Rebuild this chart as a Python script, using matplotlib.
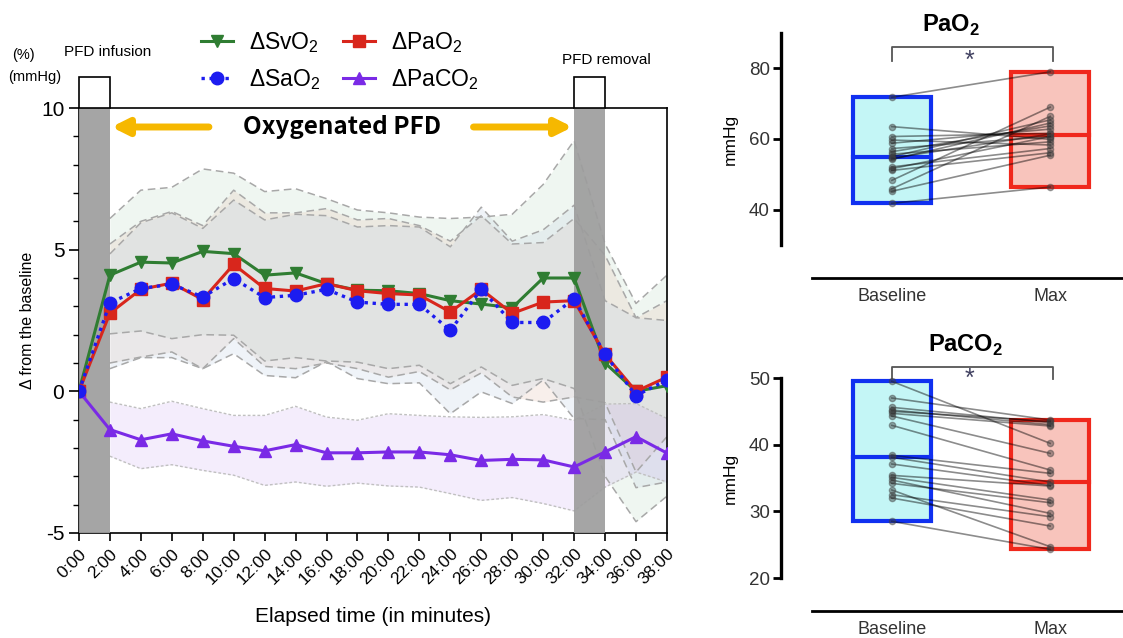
import matplotlib
matplotlib.use("Agg")
import matplotlib.pyplot as plt
import numpy as np

plt.rcParams["font.family"] = ["Liberation Sans", "DejaVu Sans"]
plt.rcParams["mathtext.fontset"] = "custom"
plt.rcParams["mathtext.rm"] = "Liberation Sans"
plt.rcParams["mathtext.bf"] = "Liberation Sans:bold"

# ── time course (left panel) ──
minutes = [0, 2, 4, 6, 8, 10, 12, 14, 16, 18, 20, 22, 24, 26, 28, 30, 32, 34, 36, 38]
time_labels = ["0:00", "2:00", "4:00", "6:00", "8:00", "10:00", "12:00", "14:00", "16:00",
               "18:00", "20:00", "22:00", "24:00", "26:00", "28:00", "30:00", "32:00",
               "34:00", "36:00", "38:00"]

svo2_mean = [0, 4.1, 4.56, 4.53, 4.94, 4.86, 4.1, 4.18, 3.8, 3.57, 3.55, 3.45, 3.2, 3.08,
             2.95, 4.0, 4.0, 1.0, 0.0, 0.2]
pao2_mean = [0, 2.76, 3.6, 3.82, 3.24, 4.48, 3.63, 3.54, 3.8, 3.55, 3.45, 3.4, 2.8, 3.6,
             2.75, 3.15, 3.2, 1.3, 0.0, 0.5]
sao2_mean = [0, 3.12, 3.63, 3.78, 3.33, 3.98, 3.31, 3.39, 3.6, 3.15, 3.07, 3.07, 2.15, 3.6,
             2.43, 2.43, 3.27, 1.3, -0.15, 0.4]
paco2_mean = [0, -1.35, -1.71, -1.5, -1.75, -1.94, -2.1, -1.88, -2.17, -2.17, -2.14, -2.14,
              -2.24, -2.44, -2.4, -2.42, -2.67, -2.14, -1.6, -2.18]

# bands, from 2:00 onwards
svo2_hi = [6.1, 7.1, 7.2, 7.85, 7.7, 7.05, 7.15, 6.8, 6.4, 6.3, 6.15, 6.1, 6.15, 6.25, 7.3,
           8.85, 5.2, 3.1, 4.1]
svo2_lo = [2.03, 2.13, 1.86, 2.0, 1.98, 1.07, 1.19, 1.07, 1.03, 0.8, 0.92, 0.27, 0.86, 0.21,
           0.45, 0.1, -3.0, -4.6, -3.7]
pao2_hi = [5.2, 6.0, 6.35, 5.85, 7.1, 6.3, 6.3, 6.45, 6.05, 6.1, 5.85, 5.3, 6.2, 5.2, 5.25,
           6.1, 4.8, 2.6, 3.2]
pao2_lo = [1.0, 1.21, 1.39, 0.8, 1.86, 0.88, 0.8, 1.0, 0.8, 0.5, 0.7, 0.05, 0.65, -0.2, -0.38,
           -0.2, -0.4, -2.85, -1.6]
sao2_hi = [4.85, 5.95, 6.3, 5.75, 6.75, 6.05, 6.25, 6.2, 5.8, 5.85, 5.8, 5.1, 6.5, 5.3, 5.7,
           6.57, 3.2, 2.6, 2.5]
sao2_lo = [0.8, 1.19, 1.19, 0.8, 1.33, 0.56, 0.48, 1.05, 0.45, 0.27, 0.3, -0.79, -0.02, -0.43,
           0.4, -0.96, -1.0, -3.4, -3.2]
paco2_hi = [-0.38, -0.61, -0.35, -0.61, -0.85, -0.85, -0.53, -0.91, -1.02, -0.79, -0.85, -0.9,
            -0.92, -0.9, -0.82, -1.02, -0.45, -0.43, -0.96]
paco2_lo = [-2.29, -2.73, -2.59, -2.79, -2.96, -3.32, -3.2, -3.35, -3.24, -3.34, -3.38, -3.61,
            -3.85, -3.75, -3.96, -4.22, -3.38, -2.85, -3.2]

# ── paired values (right panels) ──
pao2_base = [71.8, 63.5, 60.7, 59.7, 58.8, 57.3, 56.4, 55.7, 55.0, 54.6, 54.2, 52.1, 51.6,
             51.1, 48.3, 45.9, 45.2, 41.8]
pao2_max = [79.0, 59.9, 61.6, 58.3, 62.8, 60.7, 63.7, 59.2, 65.4, 61.4, 64.5, 57.3, 60.7,
            56.1, 69.0, 66.4, 55.4, 46.4]
paco2_base = [49.5, 47.0, 45.6, 45.2, 45.0, 44.7, 44.3, 42.9, 38.4, 38.1, 37.1, 35.4, 35.1,
              34.7, 34.2, 33.2, 32.5, 32.0, 28.5]
paco2_max = [40.2, 43.7, 43.3, 43.0, 43.5, 42.8, 38.7, 36.2, 35.7, 34.4, 33.9, 33.8, 31.7,
             29.7, 31.3, 24.7, 29.2, 27.8, 24.3]
groups = ["Baseline", "Max"]

GREEN = "#2f7d32"
RED = "#d8261c"
BLUE = "#1c1cf0"
PURPLE = "#7a2ae6"
ORANGE = "#f6b800"

fig = plt.figure(figsize=(11.23, 6.38), dpi=100)

# ───────────────────────── left panel ─────────────────────────
ax = fig.add_axes([0.0703, 0.1646, 0.5236, 0.6661])
t = np.array(minutes)
tb = t[1:]

band_specs = [
    (svo2_hi, svo2_lo, "#c8e1cd"),
    (pao2_hi, pao2_lo, "#e6c8b9"),
    (sao2_hi, sao2_lo, "#c8d7e6"),
]
for hi, lo, col in band_specs:
    ax.fill_between(tb, lo, hi, color=col, alpha=0.28, lw=0, zorder=1)
    ax.plot(tb, hi, ls=(0, (5, 3)), color="#a8a8a8", lw=1.1, zorder=2)
    ax.plot(tb, lo, ls=(0, (5, 3)), color="#a8a8a8", lw=1.1, zorder=2)
ax.fill_between(tb, paco2_lo, paco2_hi, color="#c8a8f0", alpha=0.2, lw=0, zorder=1)
ax.plot(tb, paco2_hi, ls=(0, (2, 1.5)), color="#c0c0c0", lw=1.0, zorder=2)
ax.plot(tb, paco2_lo, ls=(0, (2, 1.5)), color="#c0c0c0", lw=1.0, zorder=2)

# PFD infusion / removal columns
for x0, x1 in [(0, 2), (32, 34)]:
    ax.axvspan(x0, x1, color="#9d9d9d", alpha=0.92, lw=0, zorder=3)
    ax.add_patch(plt.Rectangle((x0, 10), x1 - x0, 1.09, facecolor="white",
                               edgecolor="black", lw=1.2, clip_on=False, zorder=4))

l_sv, = ax.plot(t, svo2_mean, color=GREEN, lw=2.2, marker="v", ms=8, zorder=5)
l_pa, = ax.plot(t, pao2_mean, color=RED, lw=2.2, marker="s", ms=8, zorder=6)
l_sa, = ax.plot(t, sao2_mean, color=BLUE, lw=2.4, ls=(0, (1, 1.4)), marker="o", ms=9,
                zorder=7)
l_co, = ax.plot(t, paco2_mean, color=PURPLE, lw=2.2, marker="^", ms=8, zorder=6)

ax.set_xlim(0, 38)
ax.set_ylim(-5, 10)
ax.set_xticks(minutes)
ax.set_xticklabels(time_labels, rotation=45, ha="right", rotation_mode="anchor",
                   fontsize=12.5)
ax.set_yticks([-5, 0, 5, 10])
ax.set_yticklabels(["-5", "0", "5", "10"], fontsize=15)
ax.set_yticks(np.arange(-5, 11, 1), minor=True)
ax.tick_params(axis="y", which="major", length=7, width=1.2)
ax.tick_params(axis="y", which="minor", length=4, width=1.0)
ax.tick_params(axis="x", length=6, width=1.2)
for s in ax.spines.values():
    s.set_linewidth(1.2)
ax.set_xlabel("Elapsed time (in minutes)", fontsize=15, labelpad=14)
ax.set_ylabel("Δ from the baseline", fontsize=11.5, labelpad=4)

# arrows and label
ax.annotate("", xy=(2.1, 9.33), xytext=(8.4, 9.33),
            arrowprops=dict(arrowstyle="-|>", color=ORANGE, lw=5, mutation_scale=24,
                            shrinkA=0, shrinkB=0), zorder=8)
ax.annotate("", xy=(31.9, 9.33), xytext=(25.5, 9.33),
            arrowprops=dict(arrowstyle="-|>", color=ORANGE, lw=5, mutation_scale=24,
                            shrinkA=0, shrinkB=0), zorder=8)
ax.text(17.0, 9.33, "Oxygenated PFD", fontsize=17.5, fontweight="bold",
        family=["Noto Sans CJK JP", "DejaVu Sans"], ha="center", va="center", zorder=8)

fig.text(108 / 1123, 1 - 52 / 638, "PFD infusion", fontsize=11, ha="center", va="center")
fig.text(606 / 1123, 1 - 60 / 638, "PFD removal", fontsize=11, ha="center", va="center")
fig.text(12 / 1123, 1 - 55 / 638, "(%)", fontsize=10.5, ha="left", va="center")
fig.text(8 / 1123, 1 - 77 / 638, "(mmHg)", fontsize=10.5, ha="left", va="center")

fig.legend([l_sv, l_sa, l_pa, l_co], ["ΔSvO$_2$", "ΔSaO$_2$", "ΔPaO$_2$", "ΔPaCO$_2$"],
           loc="center", bbox_to_anchor=(340 / 1123, 1 - 61 / 638), ncol=2, frameon=False,
           fontsize=16.5, handlelength=1.4, columnspacing=1.0, labelspacing=0.55,
           handletextpad=0.7)


# ───────────────────────── right panels ─────────────────────────
def paired_panel(rect, base, peak, ylim, yticks, title, title_xy, bracket_y):
    axr = fig.add_axes(rect)
    # spine position first: moving a spine resets the tick labels
    axr.spines["top"].set_visible(False)
    axr.spines["right"].set_visible(False)
    axr.spines["left"].set_linewidth(2.4)
    axr.spines["bottom"].set_linewidth(2.0)
    axr.spines["bottom"].set_position(("outward", 24))
    for b, m in zip(base, peak):
        axr.plot([0, 1], [b, m], color="black", alpha=0.45, lw=1.2, marker="o", ms=4.5,
                 mfc="#404040", mec="#404040", zorder=3)
    for xpos, vals, fc, ec in [(0, base, "#c4f6f6", "#1030f0"), (1, peak, "#f8c4bc", "#f0281c")]:
        lo, hi, med = min(vals), max(vals), float(np.median(vals))
        axr.bar(xpos, hi - lo, bottom=lo, width=0.49, facecolor=fc, edgecolor=ec, lw=3,
                zorder=2)
        axr.plot([xpos - 0.245, xpos + 0.245], [med, med], color=ec, lw=3, zorder=2)
    y0, y1 = bracket_y
    axr.plot([0, 0, 1.02, 1.02], [y0, y1, y1, y0], color="#555555", lw=1.3, clip_on=False)
    axr.text(0.49, y0, "*", fontsize=18, color="#404060", ha="center", va="center")
    axr.set_xlim(-0.70, 1.46)
    axr.set_ylim(*ylim)
    axr.spines["bottom"].set_bounds(-0.506, 1.46)
    axr.set_yticks(yticks)
    axr.set_yticklabels([str(v) for v in yticks], fontsize=13.5, color="#333333")
    axr.set_xticks([0, 1])
    axr.set_xticklabels(groups, fontsize=13, color="#333333")
    axr.tick_params(axis="y", length=6, width=2, pad=2)
    axr.tick_params(axis="x", length=0, pad=7)
    axr.set_ylabel("mmHg", fontsize=12.5, labelpad=8)
    fig.text(title_xy[0] / 1123, 1 - title_xy[1] / 638, title, fontsize=17,
             fontweight="bold", ha="center", va="baseline")
    return axr


paired_panel([0.6955, 0.616, 0.3045, 0.3323], pao2_base, pao2_max, (30, 90), [40, 60, 80],
             r"PaO$_\mathbf{2}$", (951, 32), (82, 86))
paired_panel([0.6955, 0.094, 0.3045, 0.3135], paco2_base, paco2_max, (20, 50),
             [20, 30, 40, 50], r"PaCO$_\mathbf{2}$", (966, 352), (49.8, 51.6))

fig.savefig("out.png", dpi=100)
